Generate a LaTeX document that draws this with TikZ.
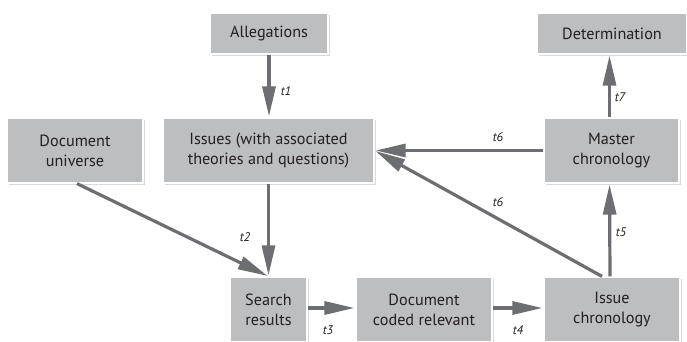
\documentclass[tikz,border=0pt]{standalone}
\usepackage{fontspec}
\setmainfont{PT Sans}
\usetikzlibrary{arrows.meta}
\definecolor{boxgray}{HTML}{BCBEC0}
\definecolor{arrgray}{HTML}{6D6E71}
\definecolor{shadowgray}{HTML}{D8D9DA}
\definecolor{txt}{HTML}{231F20}
\tikzset{
  box/.style={fill=boxgray, draw=white, line width=1.2pt, align=center, inner sep=2pt,
    font=\fontsize{16.2}{20}\selectfont, text=txt},
  flow/.style={draw=arrgray, line width=3.2pt, -{Triangle[width=13pt,length=30pt]}, shorten >=1pt},
  lbl/.style={font=\itshape\fontsize{12.5}{14}\selectfont, text=txt, inner sep=0pt},
}
\newcommand{\shadowbox}[5]{% name, cx, cy, w, h
  \fill[shadowgray] (#2-#4/2+2,#3-#5/2-2) rectangle (#2+#4/2+2,#3+#5/2-2);
  \node[box, minimum width=#4pt, minimum height=#5pt] (#1) at (#2,#3)}
\begin{document}
\begin{tikzpicture}[x=1pt,y=1pt]
\useasboundingbox[fill=white] (0,0) rectangle (687,342);
\shadowbox{alleg}{269}{308.5}{118}{41} {Allegations};
\shadowbox{det}{612}{308.5}{150}{41} {Determination};
\shadowbox{docu}{75}{191.5}{136}{65} {Document\\universe};
\shadowbox{issues}{268.5}{191.5}{211}{65} {Issues (with associated\\theories and questions)};
\shadowbox{master}{611.5}{191.5}{135}{65} {Master\\chronology};
\shadowbox{search}{268.5}{32.5}{77}{65} {Search\\results};
\shadowbox{coded}{424}{32.5}{136}{65} {Document\\coded relevant};
\shadowbox{ichron}{612}{32.5}{136}{65} {Issue\\chronology};

\draw[flow] (alleg.south) -- (alleg.south |- issues.north);
\draw[flow] (issues.south) -- (issues.south |- search.north);
\draw[flow] ([xshift=2pt]docu.south) -- (search.north);
\draw[flow] (search.east |- 0,34) -- (coded.west |- 0,34);
\draw[flow] (coded.east |- 0,34) -- (ichron.west |- 0,34);
\draw[flow] ([xshift=-2pt]ichron.north) -- ([xshift=-2pt]master.south);
\draw[flow] ([xshift=-10pt]ichron.north) -- ([yshift=0pt]issues.east);
\draw[flow] (master.west) -- (issues.east);
\draw[flow] ([xshift=-2pt]master.north) -- ([xshift=-2pt]master.north |- det.south);

\node[lbl] (l1) at (286,251) {t1};
\node[lbl] (l2) at (245,105) {t2};
\node[lbl] (l3) at (328,12) {t3};
\node[lbl] (l4) at (518,12) {t4};
\node[lbl] (l5) at (621,110) {t5};
\node[lbl] (l6a) at (498,205) {t6};
\node[lbl] (l6b) at (498,140) {t6};
\node[lbl] (l7) at (620,245) {t7};
\end{tikzpicture}
\end{document}
